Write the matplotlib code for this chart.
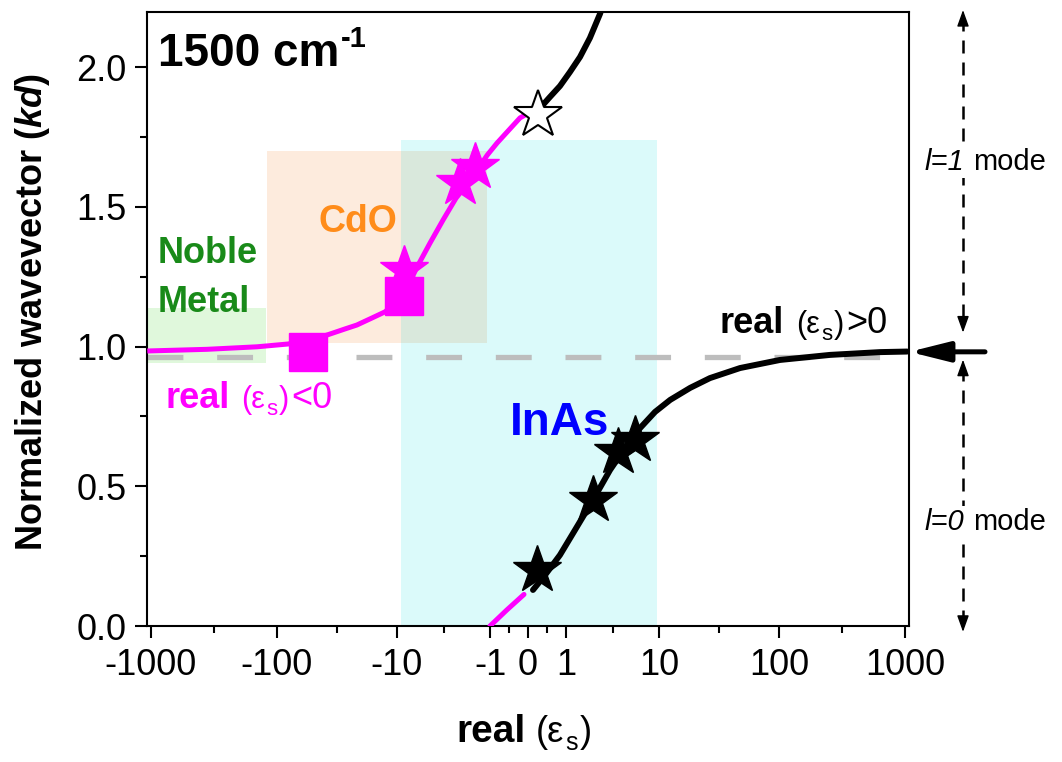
import numpy as np
import matplotlib
matplotlib.use("Agg")
import matplotlib.pyplot as plt
from matplotlib.transforms import offset_copy
from matplotlib.patches import ArrowStyle

plt.rcParams['font.family'] = ['Liberation Sans', 'DejaVu Sans']
plt.rcParams['mathtext.fontset'] = 'custom'
plt.rcParams['mathtext.rm'] = 'Liberation Sans'
plt.rcParams['mathtext.it'] = 'Liberation Sans:italic:bold'
plt.rcParams['mathtext.bf'] = 'Liberation Sans:bold'

# ---------------- data ----------------
xtick_values = [-1000, -100, -10, -1, 0, 1, 10, 100, 1000]
xtick_labels = ["-1000", "-100", "-10", "-1", "0", "1", "10", "100", "1000"]
ytick_values = [0.0, 0.5, 1.0, 1.5, 2.0]

# l=1 mode, real(eps_s) < 0 (magenta)
l1_neg_x = [-1070, -359, -144, -81, -53.1, -38.4, -27.1, -21.6, -16.2, -12.6, -10.0, -8.33,
            -6.32, -4.68, -3.44, -2.52, -1.91, -1.47, -1.09, -0.782, -0.481, -0.187, -0.07]
l1_neg_y = [0.984, 0.990, 0.999, 1.009, 1.023, 1.041, 1.063, 1.077, 1.102, 1.124, 1.159, 1.195,
            1.284, 1.370, 1.453, 1.531, 1.581, 1.631, 1.685, 1.728, 1.771, 1.818, 1.828]
# l=1 mode, real(eps_s) > 0 (black)
l1_pos_x = [0.282, 0.532, 0.811, 1.13, 1.51, 1.96, 2.52, 2.78]
l1_pos_y = [1.853, 1.893, 1.932, 1.982, 2.036, 2.104, 2.190, 2.233]
# l=0 mode, real(eps_s) < 0 (magenta)
l0_neg_x = [-1.0, -0.514, -0.093]
l0_neg_y = [0.0, 0.057, 0.113]
# l=0 mode, real(eps_s) > 0 (black)
l0_pos_x = [0.116, 0.404, 0.811, 1.31, 2.12, 3.21, 4.57, 6.47, 9.13, 12.4, 18.2, 26.6, 47.4,
            102, 254, 634, 1040]
l0_pos_y = [0.129, 0.182, 0.254, 0.343, 0.451, 0.558, 0.637, 0.708, 0.766, 0.809, 0.852, 0.887,
            0.923, 0.952, 0.970, 0.980, 0.982]

# measured points
cdo_square_x = [-55.2, -8.5]
cdo_square_y = [0.981, 1.181]
cdo_star_x = [-8.5, -2.29, -1.55]
cdo_star_y = [1.272, 1.584, 1.643]
inas_star_x = [0.21, 2.12, 3.88, 5.76]
inas_star_y = [0.200, 0.451, 0.623, 0.665]
open_star_x = [0.23]
open_star_y = [1.83]

light_line_y = 0.962
final_kd = 0.981

# material regions (x range, y range)
noble_x = [-1100, -122]
noble_y = [0.940, 1.139]
cdo_x = [-120, -1.1]
cdo_y = [1.012, 1.698]
inas_x = [-9.2, 9.6]
inas_y = [0.0, 1.739]

# ---------------- scale ----------------
D_KNOTS = np.array([-628, -377, -251, -131, -38, 0, 38, 131, 251, 377, 628], float)
U_KNOTS = np.arcsinh(np.array([-1e5, -1000, -100, -10, -1, 0, 1, 10, 100, 1000, 1e5], float))


def fwd(x):
    return np.interp(np.arcsinh(np.asarray(x, float)), U_KNOTS, D_KNOTS)


def inv(d):
    return np.sinh(np.interp(np.asarray(d, float), D_KNOTS, U_KNOTS))


W, H = 1062, 762
fig = plt.figure(figsize=(W / 100, H / 100), dpi=100)
AX_L, AX_R, AX_T, AX_B = 147.3, 909.3, 11.7, 626.0
ax = fig.add_axes([AX_L / W, (H - AX_B) / H, (AX_R - AX_L) / W, (AX_B - AX_T) / H])
ax.set_xscale('function', functions=(fwd, inv))
ax.set_xlim(float(inv(-380.7)), float(inv(381.3)))
ax.set_ylim(0, 2.198)


def fx(px):
    return (px - AX_L) / (AX_R - AX_L)


def fy(py):
    return (AX_B - py) / (AX_B - AX_T)


# ticks
ax.set_xticks(xtick_values)
ax.set_xticklabels(xtick_labels)
dk = fwd(xtick_values)
ax.set_xticks([float(inv((dk[i] + dk[i + 1]) / 2)) for i in range(len(dk) - 1)], minor=True)
ax.set_yticks(ytick_values)
ax.set_yticklabels([f"{v:.1f}" for v in ytick_values])
ax.set_yticks([0.25, 0.75, 1.25, 1.75], minor=True)
ax.tick_params(which='major', direction='out', length=8.8, width=1.5, labelsize=26, top=False, right=False)
ax.tick_params(which='minor', direction='out', length=5, width=1.5, top=False, right=False)
ax.tick_params(axis='x', which='major', pad=7)
ax.tick_params(axis='y', which='major', pad=6)
for sp in ax.spines.values():
    sp.set_linewidth(1.5)

# regions
ax.fill_between(noble_x, noble_y[0], noble_y[1], color=(48/255, 208/255, 22/255), alpha=0.15, lw=0, zorder=0)
ax.fill_between(cdo_x, cdo_y[0], cdo_y[1], color=(242/255, 122/255, 28/255), alpha=0.15, lw=0, zorder=0.1)
ax.fill_between(inas_x, inas_y[0], inas_y[1], color=(0, 220/255, 220/255), alpha=0.14, lw=0, zorder=0.2)

ax.axhline(light_line_y, color='#BDBDBD', lw=3.8, dashes=(6.8, 6.4), zorder=1)

MAG = '#FF00FF'
ax.plot(l1_neg_x, l1_neg_y, color=MAG, lw=3.6, solid_capstyle='butt', solid_joinstyle='round', zorder=3)
ax.plot(l0_neg_x, l0_neg_y, color=MAG, lw=3.6, solid_capstyle='round', zorder=3)
ax.plot(l1_pos_x, l1_pos_y, color='k', lw=4.3, solid_capstyle='round', solid_joinstyle='round', zorder=3)
ax.plot(l0_pos_x, l0_pos_y, color='k', lw=4.3, solid_capstyle='round', solid_joinstyle='round', zorder=3)

ax.plot(cdo_star_x, cdo_star_y, ls='none', marker='*', ms=36, mfc=MAG, mec=MAG, mew=1, zorder=4)
ax.plot(cdo_square_x, cdo_square_y, ls='none', marker='s', ms=27, mfc=MAG, mec=MAG, mew=1, zorder=5)
ax.plot(inas_star_x, inas_star_y, ls='none', marker='*', ms=36, mfc='k', mec='k', mew=1, zorder=4)
ax.plot(open_star_x, open_star_y, ls='none', marker='*', ms=36, mfc='white', mec='k', mew=1.5, zorder=6)

# ---------------- texts ----------------
renderer = fig.canvas.get_renderer()


def pieces(x, y, parts, color='k', bg=False):
    dx = 0.0
    for p in parts:
        s, size = p[0], p[1]
        weight = p[2] if len(p) > 2 else 'normal'
        style = p[3] if len(p) > 3 else 'normal'
        dy = p[4] if len(p) > 4 else 0
        gap = p[5] if len(p) > 5 else 0
        dx += gap
        tr = offset_copy(ax.transAxes, fig=fig, x=dx, y=dy, units='dots')
        t = ax.text(x, y, s, transform=tr, fontsize=size, fontweight=weight, fontstyle=style,
                    color=color, ha='left', va='baseline', clip_on=False, zorder=7)
        if bg:
            t.set_bbox(dict(fc='white', ec='none', pad=1.5))
        dx += t.get_window_extent(renderer).width


pieces(fx(158), fy(66), [("1500 cm", 33, 'bold'), ("-1", 21, 'bold', 'normal', 19, 1)])
pieces(fx(158), fy(263.3), [("Noble", 26, 'bold')], color='#198A19')
pieces(fx(158), fy(311.7), [("Metal", 26, 'bold')], color='#198A19')
pieces(fx(318), fy(232), [("CdO", 27, 'bold')], color='#FF8C1A')
pieces(fx(510), fy(435), [("InAs", 33, 'bold')], color='#0000FF')
pieces(fx(165), fy(408), [("real", 26, 'bold'), ("(\u03b5", 22, 'normal', 'normal', 0, 12),
                          ("s", 16, 'normal', 'normal', -7, 1), (")", 22, 'normal', 'normal', 0, 2),
                          ("<0", 26, 'normal', 'normal', 0, 2)], color=MAG)
pieces(fx(720), fy(333), [("real", 26, 'bold'), ("(\u03b5", 22, 'normal', 'normal', 0, 12),
                          ("s", 16, 'normal', 'normal', -7, 1), (")", 22, 'normal', 'normal', 0, 2),
                          (">0", 26, 'normal', 'normal', 0, 2)], color='k')
pieces(fx(456.7), fy(741.7), [("real", 28, 'bold'), ("(\u03b5", 26, 'normal', 'normal', 0, 10),
                              ("s", 18, 'normal', 'normal', -8, 1), (")", 26, 'normal', 'normal', 0, 2)])
pieces(fx(925), fy(170), [("l=1", 21, 'normal', 'italic'), ("mode", 21, 'normal', 'normal', 0, 8)], bg=True)
pieces(fx(925), fy(530), [("l=0", 21, 'normal', 'italic'), ("mode", 21, 'normal', 'normal', 0, 8)], bg=True)

ax.text(fx(42), fy(311.5), r"Normalized wavevector ($\mathit{kd}$)", transform=ax.transAxes,
        rotation=90, rotation_mode='anchor', ha='center', va='baseline', fontsize=26,
        fontweight='bold', clip_on=False)

# ---------------- arrows ----------------
yx = ax.get_yaxis_transform()
ax.annotate('', xy=(1.0, final_kd), xytext=(fx(985), final_kd), xycoords=yx, textcoords=yx,
            arrowprops=dict(arrowstyle=ArrowStyle('-|>', head_length=24, head_width=6),
                            mutation_scale=1, color='k', lw=3.6, shrinkA=0, shrinkB=0),
            annotation_clip=False, zorder=8)

xa = fx(963)
for top, bot in [(2.204, 1.05), (0.953, -0.021)]:
    ax.plot([xa, xa], [top - 0.03, bot + 0.03], transform=yx, color='k', lw=1.8,
            dashes=(5.2, 3.6), clip_on=False, zorder=6)
    hl = 0.05
    for tip, tail in [(top, top - hl), (bot, bot + hl)]:
        ax.annotate('', xy=(xa, tip), xytext=(xa, tail), xycoords=yx, textcoords=yx,
                    arrowprops=dict(arrowstyle=ArrowStyle('-|>', head_length=10, head_width=3.6),
                                    mutation_scale=1, color='k', lw=1, shrinkA=0, shrinkB=0),
                    annotation_clip=False, zorder=8)

fig.savefig("out.png", dpi=100)
